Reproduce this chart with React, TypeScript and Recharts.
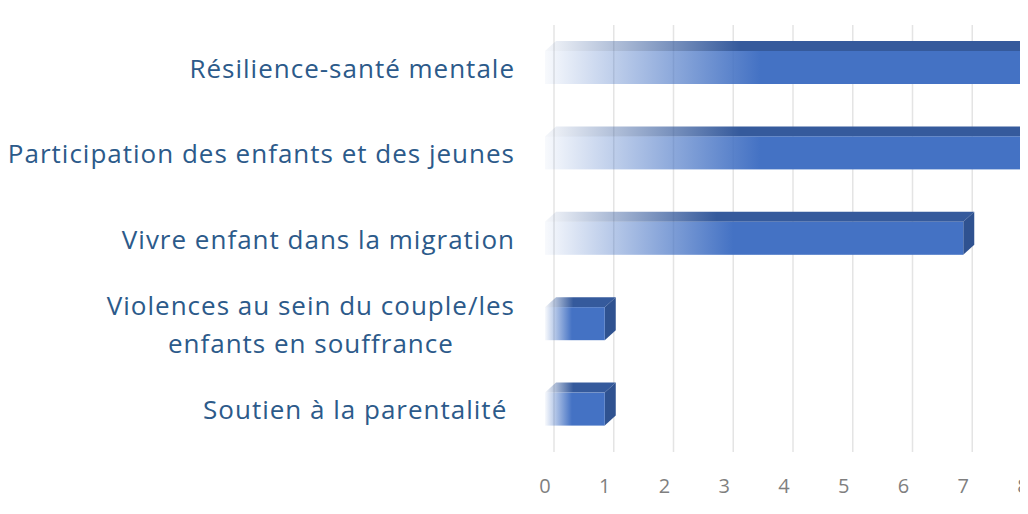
import React from 'react';
import { BarChart, Bar, XAxis, YAxis, CartesianGrid } from 'recharts';

// topics, top to bottom
const themes = [
  'Résilience-santé mentale',
  'Participation des enfants et des jeunes',
  'Vivre enfant dans la migration',
  'Violences au sein du couple/les\nenfants en souffrance',
  'Soutien à la parentalité\u00a0',
];
const counts = [8, 8, 7, 1, 1];
const xTicks = [0, 1, 2, 3, 4, 5, 6, 7, 8];

const data = themes.map((theme, i) => ({ theme, count: counts[i] }));

const LABEL_FONT = '"Open Sans", "Liberation Sans", sans-serif';
const LABEL_SIZE = 26;
const LABEL_SPACING = 1;
const DEPTH_X = 11;
const DEPTH_Y = 10;

// canvas measure so the two-line label can be centred like in Excel
const measure = (txt: string) => {
  const ctx = document.createElement('canvas').getContext('2d');
  if (!ctx) return txt.length * LABEL_SIZE * 0.5;
  ctx.font = `${LABEL_SIZE}px ${LABEL_FONT}`;
  return ctx.measureText(txt).width + txt.length * LABEL_SPACING;
};

const ThemeTick = (props: any) => {
  const { x, y, payload } = props;
  const lines: string[] = String(payload.value).split('\n');
  const right = x - 22;
  if (lines.length === 1) {
    return (
      <text x={right} y={y} textAnchor="end" dominantBaseline="central" fill="#2C5A8A"
        fontFamily={LABEL_FONT} fontSize={LABEL_SIZE} letterSpacing={LABEL_SPACING}>
        {lines[0]}
      </text>
    );
  }
  const w = Math.max(...lines.map(measure));
  const cx = right - w / 2;
  const lh = 38;
  return (
    <text textAnchor="middle" dominantBaseline="central" fill="#2C5A8A"
      fontFamily={LABEL_FONT} fontSize={LABEL_SIZE} letterSpacing={LABEL_SPACING}>
      {lines.map((l, i) => (
        <tspan key={i} x={cx} y={y + (i - (lines.length - 1) / 2) * lh}>{l}</tspan>
      ))}
    </text>
  );
};

const CountTick = (props: any) => {
  const { x, y, payload } = props;
  return (
    <text x={x} y={y + 25} textAnchor="middle" dominantBaseline="central" fill="#7F7F7F"
      fontFamily={LABEL_FONT} fontSize={20}>
      {payload.value}
    </text>
  );
};

const Bar3D = (props: any) => {
  const { x, y, width, height } = props;
  if (!width) return null;
  const top = `${x},${y} ${x + DEPTH_X},${y - DEPTH_Y} ${x + width + DEPTH_X},${y - DEPTH_Y} ${x + width},${y}`;
  const side = `${x + width},${y} ${x + width + DEPTH_X},${y - DEPTH_Y} ${x + width + DEPTH_X},${y + height - DEPTH_Y} ${x + width},${y + height}`;
  return (
    <g>
      <polygon points={top} fill="url(#topFade)" />
      <polygon points={side} fill="#2F5290" />
      <rect x={x} y={y} width={width} height={height} fill="url(#frontFade)" />
    </g>
  );
};

const App: React.FC = () => {
  return (
    <div style={{ margin: -8, width: 1028, height: 514, background: '#fff' }}>
      <BarChart
        width={1028}
        height={514}
        data={data}
        layout="vertical"
        margin={{ top: 25, right: 5, bottom: 0, left: 0 }}
        barCategoryGap={26}
      >
        <defs>
          <linearGradient id="frontFade" x1="0" y1="0" x2="1" y2="0">
            <stop offset="0" stopColor="#4472C4" stopOpacity={0.04} />
            <stop offset="0.45" stopColor="#4472C4" stopOpacity={1} />
            <stop offset="1" stopColor="#4472C4" stopOpacity={1} />
          </linearGradient>
          <linearGradient id="topFade" x1="0" y1="0" x2="1" y2="0">
            <stop offset="0" stopColor="#355A9C" stopOpacity={0.05} />
            <stop offset="0.4" stopColor="#355A9C" stopOpacity={1} />
            <stop offset="1" stopColor="#355A9C" stopOpacity={1} />
          </linearGradient>
        </defs>
        <CartesianGrid
          horizontal={false}
          stroke="#E4E4E4"
          strokeWidth={1.5}
          verticalCoordinatesGenerator={({ offset }: any) =>
            xTicks.map((t) => offset.left + (t / 8) * offset.width + 9)
          }
        />
        <XAxis
          type="number"
          domain={[0, 8]}
          ticks={xTicks}
          axisLine={false}
          tickLine={false}
          height={62}
          tick={<CountTick />}
          interval={0}
        />
        <YAxis
          type="category"
          dataKey="theme"
          width={545}
          axisLine={false}
          tickLine={false}
          tick={<ThemeTick />}
          interval={0}
        />
        <Bar dataKey="count" barSize={33} shape={<Bar3D />} isAnimationActive={false} />
      </BarChart>
    </div>
  );
};

export default App;
